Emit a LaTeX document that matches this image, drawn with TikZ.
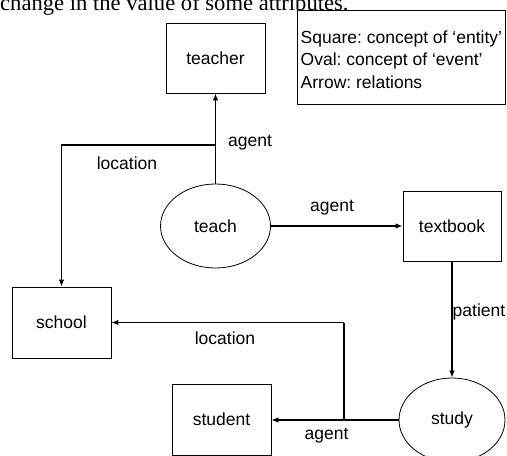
\documentclass[tikz,border=0pt]{standalone}
\usepackage{fontspec}
\setmainfont{Liberation Sans}
\newfontfamily\bodyserif{Liberation Serif}
\usetikzlibrary{arrows.meta,shapes.geometric}
\frenchspacing
\tikzset{
  lbl/.style={font=\fontsize{17.5bp}{21bp}\selectfont, inner sep=0pt},
  entity/.style={draw, line width=0.8bp, minimum width=99bp, minimum height=70bp, inner sep=0pt, font=\fontsize{17.5bp}{21bp}\selectfont},
  event/.style={draw, ellipse, line width=0.8bp, minimum width=110bp, minimum height=84bp, inner sep=0pt, font=\fontsize{17.5bp}{21bp}\selectfont},
  rel/.style={line width=1.2bp, -{Latex[length=7bp,width=5.5bp]}},
  legendbox/.style={draw, line width=0.8bp, minimum width=208bp, minimum height=94bp, inner sep=0pt},
  legendtext/.style={align=left, inner sep=0pt, font=\fontsize{17.5bp}{22.5bp}\selectfont}
}
\begin{document}
\begin{tikzpicture}[x=1bp,y=-1bp]
\useasboundingbox (0,0) rectangle (507,456);
\clip (0,0) rectangle (507,456);
% partial body text at the top
\node[anchor=base west, inner sep=0pt, font=\bodyserif\fontsize{22.6bp}{26bp}\selectfont] (bodytext) at (0,10.5) {change in the value of some attributes.};
% legend
\node[legendbox, anchor=north west] (legend) at (297,10) {};
\node[legendtext, anchor=west] (legendtxt) at ([xshift=3.5bp,yshift=-2bp]legend.west) {Square: concept of ‘entity’\\Oval: concept of ‘event’\\Arrow: relations};
% nodes
\node[entity] (teacher) at (215.5,58) {teacher};
\node[event] (teach) at (215.5,226) {teach};
\node[entity, minimum width=98bp] (textbook) at (452,226) {textbook};
\node[entity, minimum height=71bp] (school) at (61.5,322.5) {school};
\node[entity, minimum height=71bp] (student) at (221.5,419.5) {student};
\node[event, minimum width=106bp] (study) at (452,420) {study};
% connector helper points
\coordinate (locA) at (215.5,145);
\coordinate (locB) at (344,420);
% connectors
\draw[rel] (teach.north) -- (teacher.south);
\draw[rel] (locA) -| (school.north);
\draw[rel] (teach.east) -- (textbook.west);
\draw[rel] (textbook.south) -- (study.north);
\draw[rel] (study.west) -- (study.west -| student.east);
\draw[line width=1.2bp] (locB) -- (locB |- school.east);
\draw[rel] (locB |- school.east) -- (school.east);
% labels
\node[lbl] (l1) at (250,143) {agent};
\node[lbl] (l2) at (127,163) {location};
\node[lbl] (l3) at (332,208) {agent};
\node[lbl] (l4) at (479,312) {patient};
\node[lbl] (l5) at (225,338) {location};
\node[lbl] (l6) at (326.5,436) {agent};
\end{tikzpicture}
\end{document}
